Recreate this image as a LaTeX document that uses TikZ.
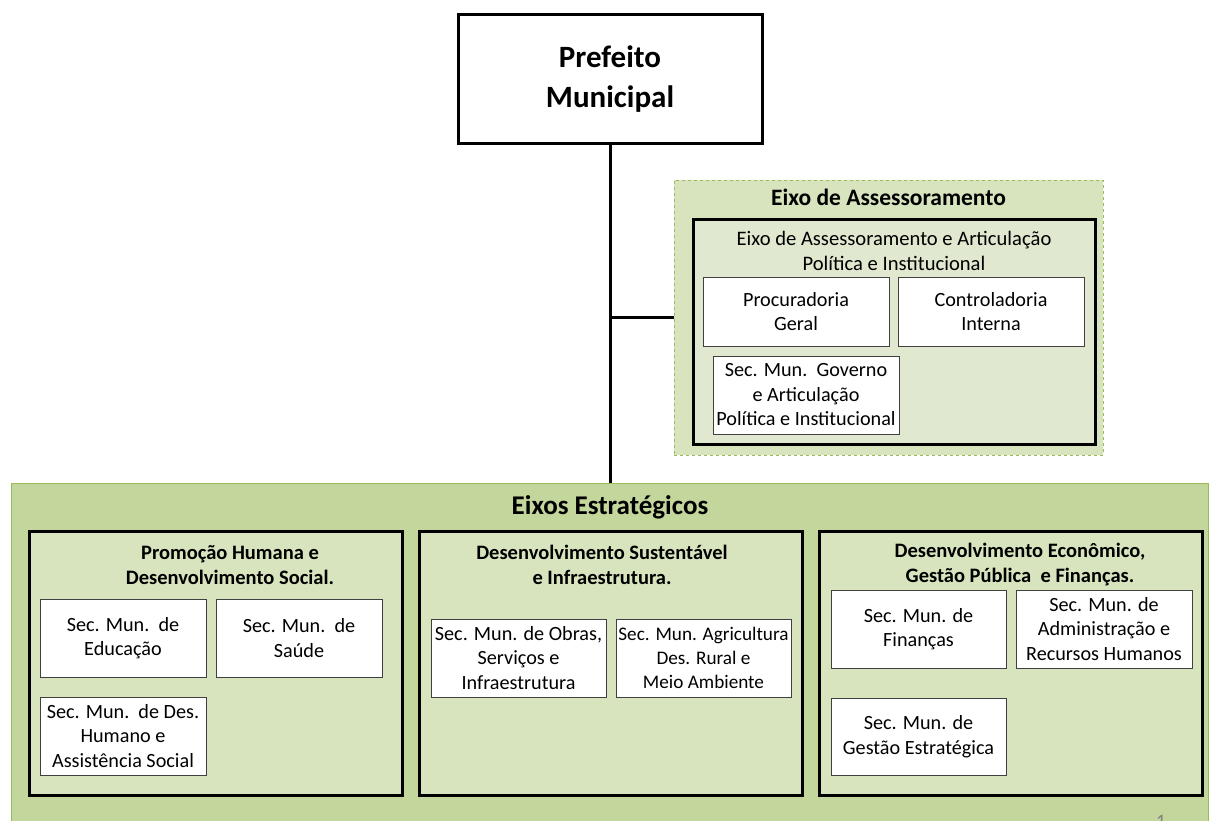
\documentclass[tikz,border=0pt]{standalone}
\usepackage{fontspec}
\setmainfont{Carlito}
\definecolor{stratfill}{HTML}{C3D69B}
\definecolor{stratline}{HTML}{9BBB59}
\definecolor{axisfill}{HTML}{D7E4BD}
\definecolor{advfill}{HTML}{E0E8D0}
\definecolor{boxline}{HTML}{404040}
\tikzset{
  rect/.style={rectangle, inner sep=0pt, align=center},
  chief/.style={rect, draw=black, line width=3pt, fill=white, font=\fontsize{31}{40}\selectfont\bfseries},
  axisbox/.style={rect, draw=black, line width=3pt, fill=axisfill},
  unitbox/.style={rect, draw=boxline, line width=1pt, fill=white, font=\fontsize{20.2}{24.5}\selectfont},
  title/.style={inner sep=0pt, align=center},
  link/.style={draw=black, line width=3pt}
}
\begin{document}
\begin{tikzpicture}[x=1pt,y=-1pt]
\useasboundingbox (0,0) rectangle (1211,820);
\fill[white] (0,0) rectangle (1211,820);

% Top
\node[chief, minimum width=304pt, minimum height=129pt] (pref) at (610,79) {Prefeito\\Municipal};

% Eixo de Assessoramento
\node[rect, draw=stratline, dashed, line width=0.8pt, fill=axisfill, minimum width=429pt, minimum height=275pt] (adv) at (888.5,317.5) {};
\node[title, font=\fontsize{23.5}{28}\selectfont\bfseries] (advtitle) at (888.5,197) {Eixo de Assessoramento};
\node[axisbox, fill=advfill, minimum width=402pt, minimum height=225pt] (advin) at (894,331.5) {};
\node[title, font=\fontsize{20.6}{25}\selectfont] (advintitle) at (894,251) {Eixo de Assessoramento e Articulação\\Política e Institucional};
\node[unitbox, minimum width=186pt, minimum height=69pt] (proc) at (796,311.5) {Procuradoria\\Geral};
\node[unitbox, minimum width=186pt, minimum height=69pt] (cont) at (991,311.5) {Controladoria\\Interna};
\node[unitbox, minimum width=186pt, minimum height=78pt] (gov) at (806,395) {Sec. Mun.\ \ Governo\\e Articulação\\Política e Institucional};

% Eixos Estrategicos
\node[rect, draw=stratline, line width=1pt, fill=stratfill, minimum width=1197pt, minimum height=357pt] (strat) at (609.5,661.5) {};
\node[title, font=\fontsize{27}{31}\selectfont\bfseries] (strattitle) at (610,507) {Eixos Estratégicos};

\node[axisbox, minimum width=373pt, minimum height=264pt] (ax1) at (215.5,663) {};
\node[axisbox, minimum width=383pt, minimum height=264pt] (ax2) at (610.5,663) {};
\node[axisbox, minimum width=383pt, minimum height=264pt] (ax3) at (1010.5,663) {};

\node[title, font=\fontsize{20.5}{25}\selectfont\bfseries] (ax1t) at (230,565) {Promoção Humana e\\Desenvolvimento Social.};
\node[title, font=\fontsize{20.5}{25}\selectfont\bfseries] (ax2t) at (602,565) {Desenvolvimento Sustentável\\e Infraestrutura.};
\node[title, font=\fontsize{20.5}{25}\selectfont\bfseries] (ax3t) at (1020,565) {Desenvolvimento Econômico,\\Gestão Pública\ \ e Finanças.};

\node[unitbox, minimum width=166pt, minimum height=78pt] (edu) at (123,638) {Sec. Mun.\ \ de\\Educação};
\node[unitbox, minimum width=166pt, minimum height=78pt] (sau) at (299,638) {Sec. Mun.\ \ de\\Saúde};
\node[unitbox, minimum width=166pt, minimum height=78pt] (hum) at (123,736) {Sec. Mun.\ \ de Des.\\Humano e\\Assistência Social};

\node[unitbox, minimum width=175pt, minimum height=78pt] (obr) at (518.5,658) {Sec. Mun. de Obras,\\Serviços e\\Infraestrutura};
\node[unitbox, minimum width=175pt, minimum height=78pt, font=\fontsize{19.2}{24}\selectfont] (agr) at (703.5,658) {Sec. Mun. Agricultura\\Des. Rural e\\Meio Ambiente};

\node[unitbox, minimum width=175pt, minimum height=78pt] (fin) at (918.5,629) {Sec. Mun. de\\Finanças};
\node[unitbox, minimum width=176pt, minimum height=78pt] (adm) at (1104,629) {Sec. Mun. de\\Administração e\\Recursos Humanos};
\node[unitbox, minimum width=175pt, minimum height=77pt] (ges) at (918.5,736.5) {Sec. Mun. de\\Gestão Estratégica};

% connectors
\coordinate (branch) at (pref.south |- adv.west);
\draw[link] (pref.south) -- (pref.south |- strat.north);
\draw[link] (branch) -- (adv.west);

% page number
\node[inner sep=0pt, anchor=north, text=gray, font=\fontsize{19}{23}\selectfont] (pg) at (1161,815) {1};
\end{tikzpicture}
\end{document}
